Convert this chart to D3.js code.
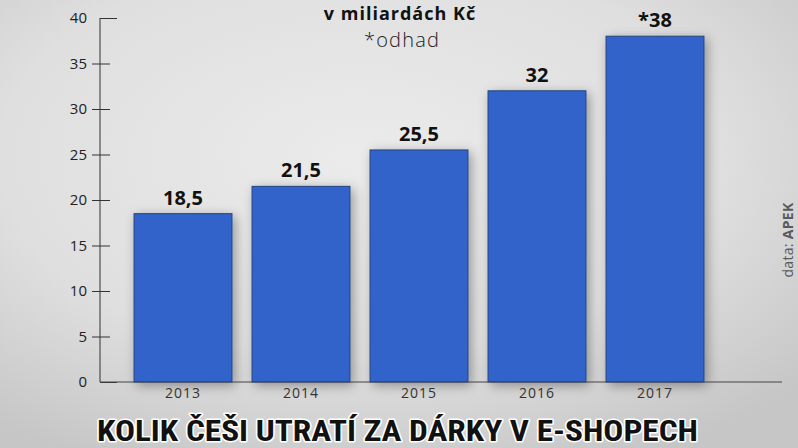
<!DOCTYPE html>
<html><head><meta charset="utf-8">
<script src="https://cdn.jsdelivr.net/npm/d3@7"></script>
<style>html,body{margin:0;padding:0;overflow:hidden;background:#ddd}</style>
</head><body>
<script>
const years = ["2013","2014","2015","2016","2017"];
const values = [18.5, 21.5, 25.5, 32, 38];
const valueLabels = ["18,5","21,5","25,5","32","*38"];
const yTicks = [0,5,10,15,20,25,30,35,40];

const W = 798, H = 448;
const svg = d3.select("body").append("svg").attr("width", W).attr("height", H);
const defs = svg.append("defs");
const rg = defs.append("radialGradient").attr("id","bg").attr("cx","45%").attr("cy","35%").attr("r","75%");
rg.append("stop").attr("offset","0%").attr("stop-color","#ebebeb");
rg.append("stop").attr("offset","60%").attr("stop-color","#dfdfdf");
rg.append("stop").attr("offset","100%").attr("stop-color","#c6c6c6");
const f = defs.append("filter").attr("id","sh").attr("x","-30%").attr("y","-30%").attr("width","160%").attr("height","160%");
f.append("feDropShadow").attr("dx",3).attr("dy",3).attr("stdDeviation",6).attr("flood-color","#000").attr("flood-opacity",0.35);

svg.append("rect").attr("width",W).attr("height",H).attr("fill","url(#bg)");

const y = d3.scaleLinear().domain([0,40]).range([382,18]);
const x = d3.scaleBand().domain(years).range([124,714]).paddingInner(0.17).paddingOuter(0.085);

// bars
svg.append("g").selectAll("rect").data(values).join("rect")
  .attr("x",(d,i)=>x(years[i])).attr("y",d=>y(d))
  .attr("width",x.bandwidth()).attr("height",d=>y(0)-y(d))
  .attr("fill","#3164cb").attr("stroke","#24447f").attr("stroke-width",1)
  .attr("filter","url(#sh)");

// y axis
const ax = svg.append("g").attr("transform","translate(100,0)")
  .call(d3.axisLeft(y).tickValues(yTicks).tickSize(8).tickPadding(6));
ax.select(".domain").attr("stroke","#333").attr("d","M0,18V382");
ax.selectAll(".tick line").attr("stroke","#333").attr("x1",10).attr("x2",-8)
  .filter(d=>d===40).attr("x1",17).attr("x2",0);
ax.selectAll(".tick line").filter(d=>d===0).attr("x1",17).attr("x2",0);
ax.selectAll(".tick text").attr("fill","#222").attr("font-size",15)
  .attr("font-family","'Open Sans', sans-serif").attr("x",-13);

// baseline
svg.append("line").attr("x1",100).attr("x2",782).attr("y1",y(0)).attr("y2",y(0))
  .attr("stroke","#444").attr("stroke-width",1);

// x labels
const xa = svg.append("g").attr("transform",`translate(0,${y(0)})`)
  .call(d3.axisBottom(x).tickSize(0).tickPadding(6));
xa.select(".domain").remove();
xa.selectAll("text").attr("fill","#333").attr("font-size",14).attr("letter-spacing",1)
  .attr("font-family","'Open Sans', sans-serif");

// value labels
svg.append("g").selectAll("text").data(values).join("text")
  .attr("x",(d,i)=>x(years[i])+x.bandwidth()/2).attr("y",d=>y(d)-9)
  .attr("text-anchor","middle").attr("font-family","'Open Sans', sans-serif")
  .attr("font-weight","bold").attr("font-size",20).attr("fill","#111")
  .text((d,i)=>valueLabels[i]);

// subtitle
svg.append("text").attr("x",400).attr("y",20).attr("text-anchor","middle")
  .attr("font-family","'Open Sans', sans-serif").attr("font-weight","bold").attr("font-size",18)
  .attr("letter-spacing",1).attr("fill","#111")
  .text("v miliardách Kč");
svg.append("text").attr("x",402).attr("y",47).attr("text-anchor","middle")
  .attr("font-family","'Open Sans', sans-serif").attr("font-weight","300").attr("font-size",20)
  .attr("letter-spacing",1.2).attr("fill","#222")
  .text("*odhad");

// source
svg.append("text").attr("transform","translate(793,240) rotate(-90)").attr("text-anchor","middle")
  .attr("font-family","'Open Sans', sans-serif").attr("font-size",14).attr("letter-spacing",0.3).attr("fill","#5a5a5a")
  .html('data: <tspan font-weight="bold">APEK</tspan>');

// title
svg.append("text").attr("x",97).attr("y",441)
  .attr("font-family","'Liberation Sans Narrow','Roboto Condensed','DejaVu Sans Condensed',sans-serif")
  .attr("font-weight","bold").attr("font-size",30).attr("fill","#111")
  .attr("stroke","#fff").attr("stroke-width",3).attr("paint-order","stroke").attr("stroke-linejoin","round")
  .attr("textLength",601).attr("lengthAdjust","spacingAndGlyphs")
  .text("KOLIK ČEŠI UTRATÍ ZA DÁRKY V E-SHOPECH");
</script>
</body></html>
